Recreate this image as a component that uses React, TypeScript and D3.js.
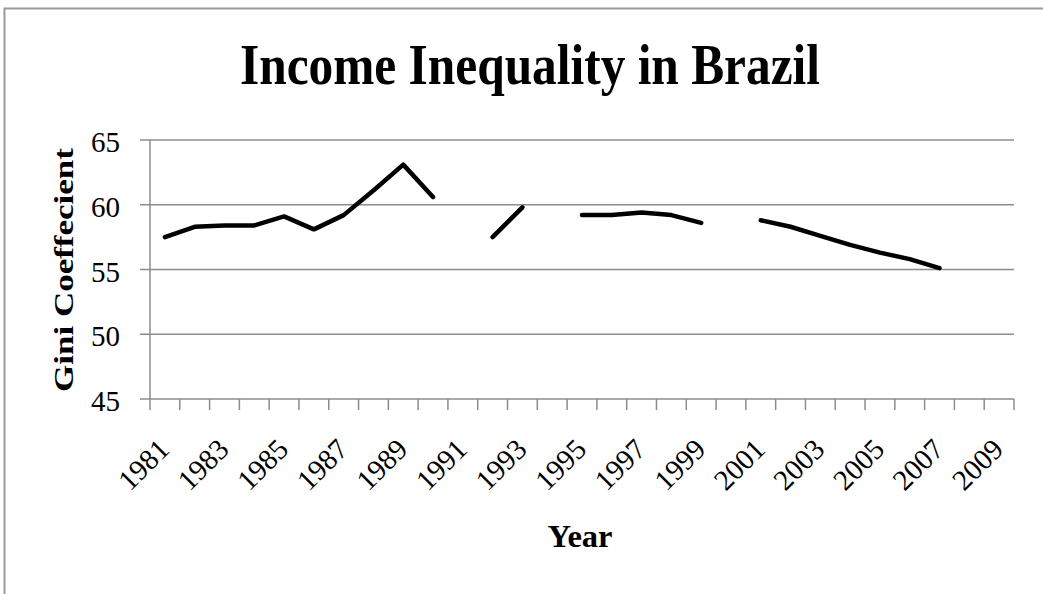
import * as d3 from "d3";

const years = d3.range(1981, 2010).map(String);
const gini: (number | null)[] = [
  57.5, 58.3, 58.4, 58.4, 59.1, 58.1, 59.2, 61.1, 63.1, 60.6,
  null, 57.5, 59.8, null, 59.2, 59.2, 59.4, 59.2, 58.6, null,
  58.8, 58.3, 57.6, 56.9, 56.3, 55.8, 55.1, null, null,
];
const yTicks = [45, 50, 55, 60, 65];
const xLabels = years.filter((_, i) => i % 2 === 0);

const width = 1043;
const height = 594;
const margin = { top: 140, right: 29, bottom: 195, left: 150 };

const App = () => {
  const innerWidth = width - margin.left - margin.right;
  const innerHeight = height - margin.top - margin.bottom;

  const xScale = d3.scaleBand().domain(years).range([0, innerWidth]);
  const yScale = d3.scaleLinear().domain([45, 65]).range([innerHeight, 0]);

  const line = d3
    .line<number | null>()
    .defined((d) => d !== null)
    .x((_, i) => xScale(years[i])! + xScale.bandwidth() / 2)
    .y((d) => yScale(d as number));

  const serif = "'Liberation Serif', 'Times New Roman', serif";

  return (
    <div style={{ position: "absolute", left: 0, top: 0 }}>
      <svg width={width} height={height} style={{ display: "block", background: "#fff" }}>
        <rect x={4.5} y={8.5} width={1060} height={620} fill="#fff" stroke="#9a9a9a" strokeWidth={2} />
        <text
          x={530}
          y={84}
          textAnchor="middle"
          fontFamily={serif}
          fontWeight="bold"
          fontSize={57}
          textLength={580}
          lengthAdjust="spacingAndGlyphs"
        >
          Income Inequality in Brazil
        </text>
        <text
          transform={`translate(73, 270) rotate(-90)`}
          textAnchor="middle"
          fontFamily={serif}
          fontWeight="bold"
          fontSize={27}
          textLength={244}
          lengthAdjust="spacingAndGlyphs"
        >
          Gini Coeffecient
        </text>
        <text
          x={580}
          y={547}
          textAnchor="middle"
          fontFamily={serif}
          fontWeight="bold"
          fontSize={32}
          textLength={65}
          lengthAdjust="spacingAndGlyphs"
        >
          Year
        </text>
        <g transform={`translate(${margin.left}, ${margin.top})`}>
          {yTicks.slice(1).map((t) => (
            <line key={`g${t}`} x1={0} x2={innerWidth} y1={yScale(t)} y2={yScale(t)} stroke="#8c8c8c" strokeWidth={1.5} />
          ))}
          <line x1={0} x2={0} y1={0} y2={innerHeight} stroke="#8c8c8c" strokeWidth={1.5} />
          <line x1={0} x2={innerWidth} y1={innerHeight} y2={innerHeight} stroke="#8c8c8c" strokeWidth={1.5} />
          {yTicks.map((t) => (
            <g key={`y${t}`} transform={`translate(0, ${yScale(t)})`}>
              <line x1={-10} x2={0} stroke="#8c8c8c" strokeWidth={1.5} />
              <text x={-30} y={12} textAnchor="end" fontFamily={serif} fontSize={29}>
                {t}
              </text>
            </g>
          ))}
          {years.concat(["end"]).map((y, i) => {
            const x = i < years.length ? xScale(y)! : innerWidth;
            return <line key={`t${i}`} x1={x} x2={x} y1={innerHeight} y2={innerHeight + 11} stroke="#8c8c8c" strokeWidth={1.5} />;
          })}
          {xLabels.map((y) => (
            <text
              key={`x${y}`}
              transform={`translate(${xScale(y)! + xScale.bandwidth() / 2 + 6}, ${innerHeight + 52}) rotate(-45)`}
              textAnchor="end"
              fontFamily={serif}
              fontSize={29}
            >
              {y}
            </text>
          ))}
          <path d={line(gini) ?? ""} fill="none" stroke="#000" strokeWidth={4.5} strokeLinejoin="round" strokeLinecap="round" />
        </g>
      </svg>
    </div>
  );
};

export default App;
